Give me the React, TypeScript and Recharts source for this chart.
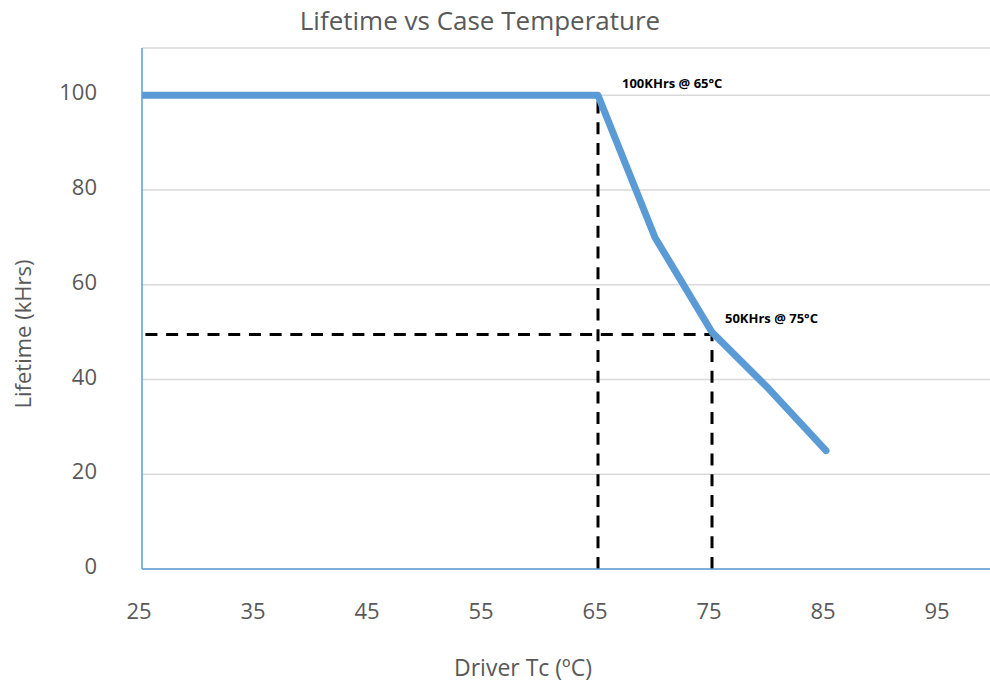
import React from 'react';
import {
  LineChart, Line, XAxis, YAxis, CartesianGrid, ReferenceLine, ReferenceDot
} from 'recharts';

const temps = [25, 65, 70, 75, 80, 85];
const lifetimes = [100, 100, 70, 50, 38, 25];
const xTicks = [25, 35, 45, 55, 65, 75, 85, 95];
const yTicks = [0, 20, 40, 60, 80, 100];
const kneeTemp = 65;
const kneeLife = 100;
const ratedTemp = 75;
const ratedLife = 49.5;
const guideStart = 25.3;
const noteTexts = ['100KHrs @ 65°C', '50KHrs @ 75°C'];
const noteTemps = [65, 75];
const noteLifes = [100, 50];

const data = temps.map((t, i) => ({ temp: t, life: lifetimes[i] }));

const FONT = '"Open Sans", sans-serif';
const GREY = '#595959';

const YTick = (props: any) => {
  const { x, y, payload } = props;
  return (
    <text x={x} y={y - 4} textAnchor="end" dominantBaseline="central"
      fill={GREY} fontSize={22} fontFamily={FONT}>
      {payload.value}
    </text>
  );
};

const XTick = (props: any) => {
  const { x, y, payload } = props;
  return (
    <text x={x - 3} y={y + 41} textAnchor="middle" dominantBaseline="central"
      fill={GREY} fontSize={22} fontFamily={FONT}>
      {payload.value}
    </text>
  );
};

const noteOffsets = [{ dx: 24, dy: -12 }, { dx: 13, dy: -14 }];

const dash = { stroke: '#000', strokeWidth: 3, strokeDasharray: '12 8.7' };

export default function App() {
  return (
    <div style={{ position: 'absolute', left: 0, top: 0, width: 990, height: 687, overflow: 'hidden', background: '#fff' }}>
      <LineChart width={997} height={687} data={data}
        margin={{ top: 48, right: 0, bottom: 0, left: 0 }}>
        <CartesianGrid vertical={false} stroke="#d9d9d9" strokeWidth={1.5} />
        <XAxis type="number" dataKey="temp" domain={[25, 100]} ticks={xTicks}
          allowDataOverflow height={118} tickLine={false} tickSize={0} tickMargin={0}
          axisLine={{ stroke: '#5b9bd5', strokeWidth: 1.5 }} tick={<XTick />} />
        <YAxis type="number" domain={[0, 110]} ticks={yTicks} width={142}
          tickLine={false} tickSize={0} tickMargin={45}
          axisLine={{ stroke: '#5b9bd5', strokeWidth: 1.5 }} tick={<YTick />} />
        <ReferenceLine segment={[{ x: kneeTemp, y: 0 }, { x: kneeTemp, y: kneeLife }]} {...dash} />
        <ReferenceLine segment={[{ x: guideStart, y: ratedLife }, { x: ratedTemp, y: ratedLife }]} {...dash} />
        <ReferenceLine segment={[{ x: ratedTemp, y: 0 }, { x: ratedTemp, y: ratedLife }]} {...dash} />
        <Line type="linear" dataKey="life" stroke="#5b9bd5" strokeWidth={7}
          dot={false} activeDot={false} strokeLinecap="round" strokeLinejoin="round"
          isAnimationActive={false} />
        {noteTexts.map((t, i) => (
          <ReferenceDot key={t} x={noteTemps[i]} y={noteLifes[i]} r={0} fill="none" stroke="none"
            label={(p: any) => (
              <text x={p.viewBox.x + noteOffsets[i].dx} y={p.viewBox.y + noteOffsets[i].dy}
                dominantBaseline="central" fontSize={13} fontWeight="bold"
                fontFamily={FONT} fill="#000">{t}</text>
            )} />
        ))}
      </LineChart>
      <div style={{ position: 'absolute', left: 480, top: 20, transform: 'translate(-50%, -50%)',
        whiteSpace: 'nowrap', fontFamily: FONT, fontSize: 26, color: GREY }}>
        Lifetime vs Case Temperature
      </div>
      <div style={{ position: 'absolute', left: 523, top: 667, transform: 'translate(-50%, -50%)',
        whiteSpace: 'nowrap', fontFamily: FONT, fontSize: 23, color: GREY }}>
        Driver Tc (ºC)
      </div>
      <div style={{ position: 'absolute', left: 22, top: 334, transform: 'translate(-50%, -50%) rotate(-90deg)',
        whiteSpace: 'nowrap', fontFamily: FONT, fontSize: 22, color: GREY }}>
        Lifetime (kHrs)
      </div>
    </div>
  );
}
